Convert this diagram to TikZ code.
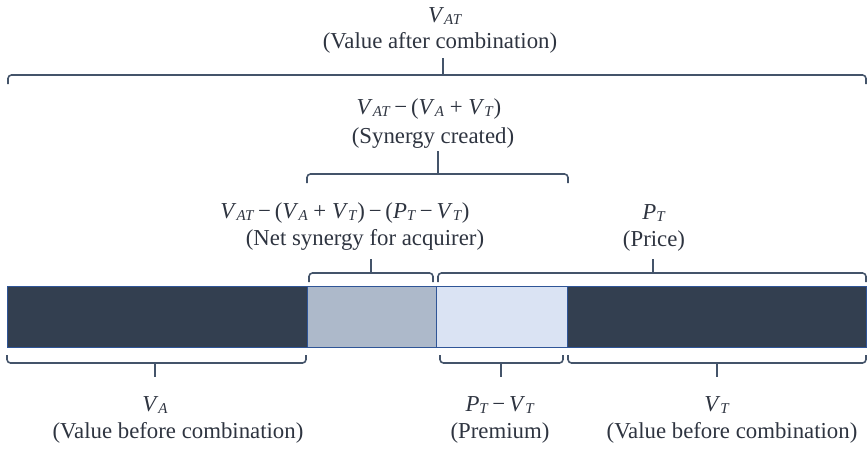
\documentclass[tikz,border=0pt]{standalone}
\usepackage{fontspec}
\setmainfont{Liberation Serif}
\definecolor{darkseg}{HTML}{333F50}
\definecolor{midseg}{HTML}{ADB9CA}
\definecolor{lightseg}{HTML}{DAE3F3}
\definecolor{segline}{HTML}{2F5597}
\definecolor{brkline}{HTML}{44546A}
\definecolor{txt}{HTML}{2E3440}
% italic variable with a lowered, smaller subscript
\newcommand\vsb[2]{\textit{#1}\raisebox{-0.15ex}{\fontsize{15}{15}\selectfont\textit{#2}}}
\newcommand\mn{\,−\,}
\tikzset{
  seg/.style={draw=segline, line width=1pt, inner sep=0pt, anchor=north west,
    minimum height=61pt},
  brk/.style={draw=brkline, line width=1.6pt, rounded corners=3.5pt},
  lbl/.style={text=txt, inner sep=0pt, font=\fontsize{22.8}{27}\selectfont}
}
% bracket opening downwards: x1, x2, y of bar, stem x, stem top y
\newcommand\brkdown[5]{%
  \draw[brk] (#1,#3+9) -- (#1,#3) -- (#2,#3) -- (#2,#3+9);
  \draw[brk, rounded corners=0pt] (#4,#3) -- (#4,#5);}
% bracket opening upwards: x1, x2, y of bar, stem x, stem bottom y
\newcommand\brkup[5]{%
  \draw[brk] (#1,#3-8) -- (#1,#3) -- (#2,#3) -- (#2,#3-8);
  \draw[brk, rounded corners=0pt] (#4,#3) -- (#4,#5);}
\begin{document}
\begin{tikzpicture}[x=1pt, y=-1pt]
\useasboundingbox (0,0) rectangle (867,451);

% the bar
\node[seg, fill=darkseg, minimum width=300pt] (segA) at (7,286) {};
\node[seg, fill=midseg, minimum width=129pt] (segN) at (307,286) {};
\node[seg, fill=lightseg, minimum width=131pt] (segP) at (436,286) {};
\node[seg, fill=darkseg, minimum width=299pt] (segT) at (567,286) {};

% labels above
\node[lbl] (tVAT) at (445,16) {\vsb{V}{AT}};
\node[lbl] (tVATd) at (440,43) {(Value after combination)};
\node[lbl] (tSyn) at (429,109) {\vsb{V}{AT}\mn(\vsb{V}{A} + \vsb{V}{T})};
\node[lbl] (tSynd) at (433,138) {(Synergy created)};
\node[lbl] (tNet) at (345,213) {\vsb{V}{AT}\mn(\vsb{V}{A} + \vsb{V}{T})\mn(\vsb{P}{T}\mn\vsb{V}{T})};
\node[lbl] (tNetd) at (365,240) {(Net synergy for acquirer)};
\node[lbl] (tPT) at (654,213) {\vsb{P}{T}};
\node[lbl] (tPTd) at (654,241) {(Price)};

% labels below
\node[lbl] (tVA) at (155,405) {\vsb{V}{A}};
\node[lbl] (tVAd) at (178,433) {(Value before combination)};
\node[lbl] (tPrem) at (500,405) {\vsb{P}{T}\mn\vsb{V}{T}};
\node[lbl] (tPremd) at (500,433) {(Premium)};
\node[lbl] (tVT) at (717,405) {\vsb{V}{T}};
\node[lbl] (tVTd) at (732,433) {(Value before combination)};

% brackets above the bar
\brkdown{8}{866}{75}{443}{58}
\brkdown{307}{568}{174}{438}{151}
\brkdown{309}{433}{273}{371}{259}
\brkdown{438}{866}{273}{653}{259}

% brackets below the bar
\brkup{7}{306}{363}{155}{377}
\brkup{440}{563}{363}{501}{377}
\brkup{568}{866}{363}{717}{377}
\end{tikzpicture}
\end{document}
